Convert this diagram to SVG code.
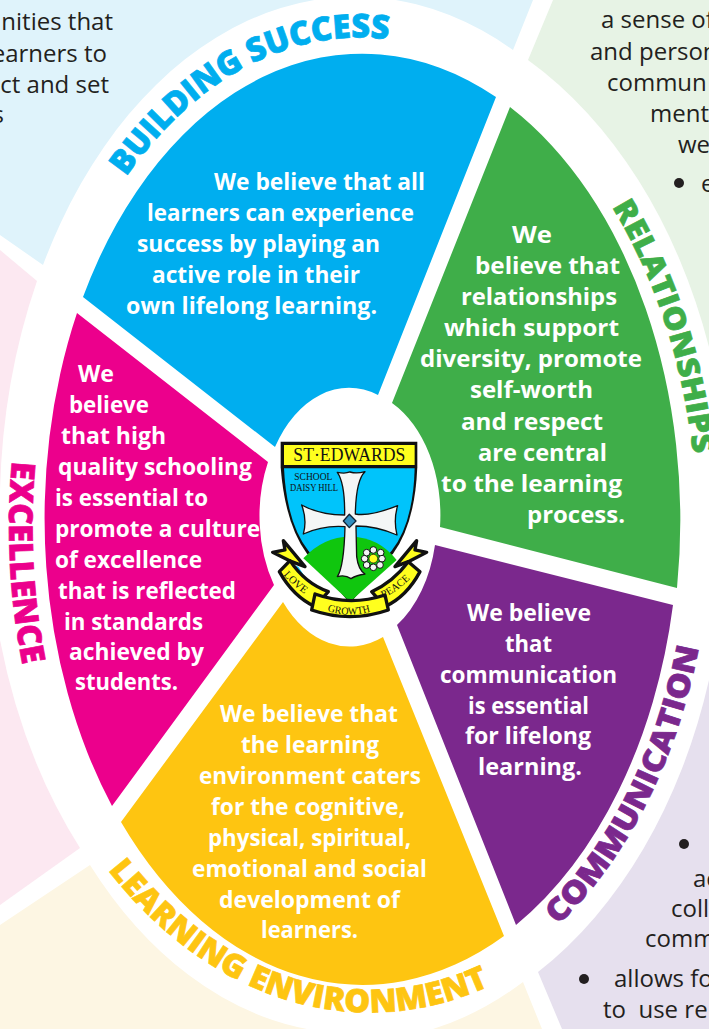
<svg xmlns="http://www.w3.org/2000/svg" width="709" height="1029" viewBox="0 0 709 1029">
<style>
.w{font-family:"Open Sans","Noto Sans",sans-serif;font-weight:700;font-size:24px;fill:#fff}
.b{font-family:"Open Sans","Noto Sans",sans-serif;font-size:24px;fill:#231f20}
.d{fill:#231f20}
.l{font-family:"Open Sans","Noto Sans",sans-serif;font-weight:800;stroke-width:.7}
.s{font-family:"Liberation Serif",serif;fill:#111}
</style>
<defs>
<path id="pb" d="M126,177 A335 490 0 0 1 393,40"/>
<path id="pg" d="M612,207 A335 490 0 0 1 693,453"/>
<path id="pp" d="M558,925 A345 490 0 0 0 698,652"/>
<path id="py" d="M108,870 A390 550 0 0 0 502,980"/>
<path id="pk" d="M12,461 A345 500 0 0 0 23,667"/>
<path id="rl" d="M100,555 Q140,600 190,628"/>
<path id="rc" d="M232,663 Q300,685 368,663"/>
<path id="rr" d="M400,625 Q450,600 497,550"/>
</defs>
<rect width="709" height="1029" fill="#fff"/>
<g id="pale-areas">
<path fill="#dff3fb" d="M0,0 H533 L513,50 A355 512 0 0 0 43,265 L0,235Z"/>
<path fill="#e7f3e5" d="M553,0 L528,60 A380 520 0 0 1 709,347 V0Z"/>
<path fill="#e6e0ee" d="M709,680 A370 512 0 0 1 538,972 L562,1029 H709Z"/>
<path fill="#fdf6e3" d="M0,925 L90,865 A355 512 0 0 0 307,1029 H433 A355 512 0 0 0 523,982 L542,1029 H0Z"/>
<path fill="#fce8f1" d="M0,250 L37,281 A355 512 0 0 0 0,490 V640 A355 512 0 0 0 80,848 L0,905Z"/>
</g>
<g id="building-success">
<path fill="#00aeef" d="M83,297 A318 467 0 0 1 496,97 L378,395 A87 125 0 0 0 275,447Z"/>
<text class="l" font-size="33" fill="#00aeef" stroke="#00aeef"><textPath href="#pb" textLength="312" lengthAdjust="spacingAndGlyphs">BUILDING SUCCESS</textPath></text>
<text class="w" x="214" y="190" textLength="211" lengthAdjust="spacingAndGlyphs">We believe that all</text>
<text class="w" x="147" y="221" textLength="267" lengthAdjust="spacingAndGlyphs">learners can experience</text>
<text class="w" x="137" y="252" textLength="243" lengthAdjust="spacingAndGlyphs">success by playing an</text>
<text class="w" x="152" y="283" textLength="208" lengthAdjust="spacingAndGlyphs">active role in their</text>
<text class="w" x="126" y="314" textLength="251" lengthAdjust="spacingAndGlyphs">own lifelong learning.</text>
</g>
<g id="relationships">
<path fill="#3fae49" d="M510,107 A318 467 0 0 1 677,588 L440,527 A87 125 0 0 0 392,403Z"/>
<text class="l" font-size="30" fill="#3fae49" stroke="#3fae49"><textPath href="#pg" textLength="262" lengthAdjust="spacingAndGlyphs">RELATIONSHIPS</textPath></text>
<text class="w" x="512" y="243" textLength="40" lengthAdjust="spacingAndGlyphs">We</text>
<text class="w" x="475" y="274" textLength="145" lengthAdjust="spacingAndGlyphs">believe that</text>
<text class="w" x="461" y="305" textLength="156" lengthAdjust="spacingAndGlyphs">relationships</text>
<text class="w" x="444" y="336" textLength="175" lengthAdjust="spacingAndGlyphs">which support</text>
<text class="w" x="420" y="367" textLength="222" lengthAdjust="spacingAndGlyphs">diversity, promote</text>
<text class="w" x="470" y="398" textLength="123" lengthAdjust="spacingAndGlyphs">self-worth</text>
<text class="w" x="461" y="430" textLength="142" lengthAdjust="spacingAndGlyphs">and respect</text>
<text class="w" x="478" y="461" textLength="129" lengthAdjust="spacingAndGlyphs">are central</text>
<text class="w" x="441" y="492" textLength="181" lengthAdjust="spacingAndGlyphs">to the learning</text>
<text class="w" x="527" y="523" textLength="98" lengthAdjust="spacingAndGlyphs">process.</text>
</g>
<g id="communication">
<path fill="#7b288d" d="M673,605 A318 467 0 0 1 516,925 L397,625 A87 125 0 0 0 435,545Z"/>
<text class="l" font-size="31" fill="#7b288d" stroke="#7b288d"><textPath href="#pp" textLength="316" lengthAdjust="spacingAndGlyphs">COMMUNICATION</textPath></text>
<text class="w" x="467" y="621" textLength="124" lengthAdjust="spacingAndGlyphs">We believe</text>
<text class="w" x="505" y="652" textLength="47" lengthAdjust="spacingAndGlyphs">that</text>
<text class="w" x="440" y="683" textLength="177" lengthAdjust="spacingAndGlyphs">communication</text>
<text class="w" x="468" y="714" textLength="121" lengthAdjust="spacingAndGlyphs">is essential</text>
<text class="w" x="465" y="744" textLength="126" lengthAdjust="spacingAndGlyphs">for lifelong</text>
<text class="w" x="478" y="775" textLength="104" lengthAdjust="spacingAndGlyphs">learning.</text>
</g>
<g id="learning-environment">
<path fill="#fec511" d="M504,936 A318 467 0 0 1 121,822 L283,602 A87 125 0 0 0 383,637Z"/>
<text class="l" font-size="32" fill="#fec511" stroke="#fec511"><textPath href="#py" textLength="432" lengthAdjust="spacingAndGlyphs">LEARNING ENVIRONMENT</textPath></text>
<text class="w" x="220" y="722" textLength="178" lengthAdjust="spacingAndGlyphs">We believe that</text>
<text class="w" x="241" y="753" textLength="138" lengthAdjust="spacingAndGlyphs">the learning</text>
<text class="w" x="199" y="784" textLength="222" lengthAdjust="spacingAndGlyphs">environment caters</text>
<text class="w" x="211" y="815" textLength="194" lengthAdjust="spacingAndGlyphs">for the cognitive,</text>
<text class="w" x="208" y="846" textLength="203" lengthAdjust="spacingAndGlyphs">physical, spiritual,</text>
<text class="w" x="192" y="877" textLength="235" lengthAdjust="spacingAndGlyphs">emotional and social</text>
<text class="w" x="219" y="908" textLength="181" lengthAdjust="spacingAndGlyphs">development of</text>
<text class="w" x="261" y="938" textLength="97" lengthAdjust="spacingAndGlyphs">learners.</text>
</g>
<g id="excellence">
<path fill="#ec008c" d="M112,806 A318 467 0 0 1 77,313 L268,462 A87 125 0 0 0 274,585Z"/>
<text class="l" font-size="33" fill="#ec008c" stroke="#ec008c"><textPath href="#pk" textLength="205" lengthAdjust="spacingAndGlyphs">EXCELLENCE</textPath></text>
<text class="w" x="78" y="382" textLength="36" lengthAdjust="spacingAndGlyphs">We</text>
<text class="w" x="69" y="413" textLength="80" lengthAdjust="spacingAndGlyphs">believe</text>
<text class="w" x="61" y="444" textLength="105" lengthAdjust="spacingAndGlyphs">that high</text>
<text class="w" x="58" y="475" textLength="194" lengthAdjust="spacingAndGlyphs">quality schooling</text>
<text class="w" x="55" y="506" textLength="153" lengthAdjust="spacingAndGlyphs">is essential to</text>
<text class="w" x="55" y="537" textLength="205" lengthAdjust="spacingAndGlyphs">promote a culture</text>
<text class="w" x="55" y="568" textLength="147" lengthAdjust="spacingAndGlyphs">of excellence</text>
<text class="w" x="58" y="599" textLength="178" lengthAdjust="spacingAndGlyphs">that is reflected</text>
<text class="w" x="64" y="630" textLength="139" lengthAdjust="spacingAndGlyphs">in standards</text>
<text class="w" x="69" y="660" textLength="135" lengthAdjust="spacingAndGlyphs">achieved by</text>
<text class="w" x="75" y="690" textLength="103" lengthAdjust="spacingAndGlyphs">students.</text>
</g>
<g id="body-text">
<text class="b" x="113" y="30" text-anchor="end">nities that</text>
<text class="b" x="107" y="62" text-anchor="end">earners to</text>
<text class="b" x="109" y="93" text-anchor="end">ct and set</text>
<text class="b" x="4" y="123" text-anchor="end">s</text>
<text class="b" x="601" y="28">a sense of</text>
<text class="b" x="590" y="60">and person</text>
<text class="b" x="607" y="91">commun</text>
<text class="b" x="650" y="122">ment</text>
<text class="b" x="678" y="153">we</text>
<circle class="d" cx="679" cy="183" r="5"/>
<text class="b" x="701" y="192">e</text>
<circle class="d" cx="684" cy="844" r="5"/>
<text class="b" x="693" y="887">ac</text>
<text class="b" x="671" y="917">coll</text>
<text class="b" x="645" y="947">comm</text>
<circle class="d" cx="584" cy="979" r="5"/>
<text class="b" x="614" y="987">allows fo</text>
<text class="b" x="603" y="1018" xml:space="preserve">to  use re</text>
</g>
<g id="centre">
<ellipse cx="348" cy="517" rx="87" ry="126" fill="#fff"/>
<g id="crest" transform="translate(250 390) scale(.3333)" stroke-linejoin="round">
<path d="M92,155 H502 V232 Q495,400 430,490 L300,640 L170,490 Q105,400 92,232Z" fill="#111"/>
<rect x="102" y="165" width="392" height="60" fill="#ffff1e"/>
<path d="M102,235 H494 Q490,400 425,482 L300,628 L175,482 Q110,400 102,235Z" fill="#00c4fb"/>
<path d="M160,505 Q220,440 300,440 Q385,440 440,510 L300,635Z" fill="#10c60e"/>
<path d="M262,247 Q285,252 300,246 Q320,252 345,245 Q318,270 316,372 Q360,380 443,347 Q430,390 441,435 Q380,408 318,408 L320,500 Q325,540 345,552 Q320,555 303,566 Q285,553 262,560 Q282,530 285,410 Q220,405 160,432 Q172,390 155,345 Q210,375 284,375 Q285,280 262,247Z" fill="#f4f6f6" stroke="#111" stroke-width="4"/>
<path d="M298,373 L318,393 L298,413 L280,393Z" fill="#2f8fc0" stroke="#123" stroke-width="4"/>
<g fill="#f4f6f6" stroke="#111" stroke-width="3"><circle cx="370" cy="480" r="10"/><circle cx="392" cy="488" r="10"/><circle cx="396" cy="506" r="10"/><circle cx="390" cy="525" r="10"/><circle cx="370" cy="532" r="10"/><circle cx="350" cy="525" r="10"/><circle cx="344" cy="506" r="10"/><circle cx="350" cy="488" r="10"/></g>
<circle cx="370" cy="506" r="13" fill="#ffff1e" stroke="#111" stroke-width="2"/>
<path d="M165,570 L235,625 L180,640Z M435,570 L365,625 L420,640Z" fill="#111"/>
<path d="M125,522 L165,560 L145,530Z M475,522 L435,560 L455,530Z M205,608 L232,630 L195,615Z M395,608 L368,630 L405,615Z" fill="#00c4fb"/>
<g fill="#ffff1e" stroke="#111" stroke-width="10">
<path d="M68,487 L105,480 L100,452 L165,530 L125,515Z"/>
<path d="M530,487 L495,480 L500,452 L435,530 L475,515Z"/>
<path d="M88,545 L120,512 Q165,580 235,605 L195,650 Q130,620 88,545Z"/>
<path d="M510,545 L475,515 Q430,575 365,605 L405,650 Q470,620 510,545Z"/>
<path d="M195,612 Q300,650 405,615 L415,660 Q300,700 185,660Z"/>
</g>
<text class="s" x="130" y="214" font-size="58" textLength="336" lengthAdjust="spacingAndGlyphs">ST·EDWARDS</text>
<text class="s" x="133" y="270" font-size="30" fill="#123" textLength="114" lengthAdjust="spacingAndGlyphs">SCHOOL</text>
<text class="s" x="120" y="304" font-size="30" fill="#123" textLength="144" lengthAdjust="spacingAndGlyphs">DAISY HILL</text>
<text class="s" font-size="32"><textPath href="#rl">LOVE</textPath></text>
<text class="s" font-size="32"><textPath href="#rc" textLength="132" lengthAdjust="spacingAndGlyphs">GROWTH</textPath></text>
<text class="s" font-size="32"><textPath href="#rr" textLength="100" lengthAdjust="spacingAndGlyphs">PEACE</textPath></text>
</g>
</g>
</svg>
